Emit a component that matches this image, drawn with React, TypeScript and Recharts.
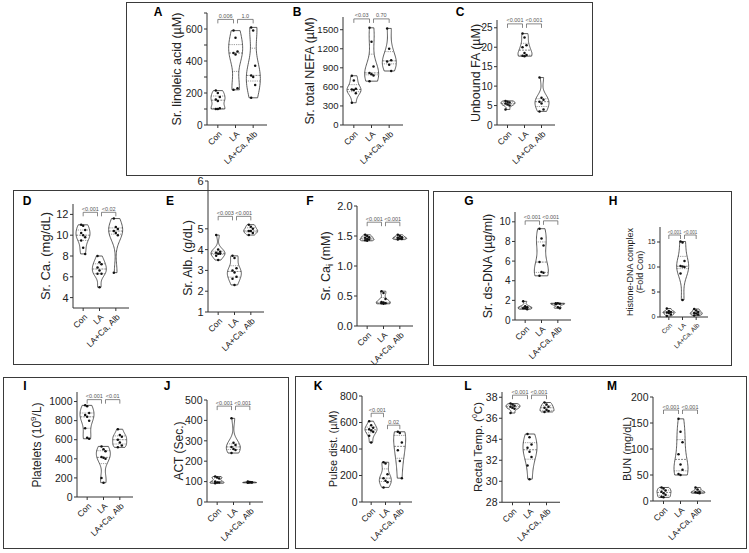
import React from 'react'
import { ComposedChart, Bar, Scatter, XAxis, YAxis, ReferenceLine } from 'recharts'

const groups = ['Con', 'LA', 'LA+Ca, Alb']

// A: serum linoleic acid (µM)
const linoleicCon = [215, 200, 175, 160, 150, 105, 100, 100]
const linoleicLA = [590, 545, 460, 450, 440, 230, 220]
const linoleicAlb = [610, 590, 370, 310, 300, 250, 170]
const linoleicP = ['0.006', '1.0']
const linoleicTicks = [0, 100, 200, 300, 400, 500, 600, 700]

// B: serum total NEFA (µM)
const nefaCon = [775, 700, 570, 560, 550, 500, 350]
const nefaLA = [1530, 1310, 920, 820, 800, 780, 690]
const nefaAlb = [1520, 1200, 1020, 1000, 950, 850]
const nefaP = ['<0.03', '0.70']
const nefaTicks = [0, 300, 600, 900, 1200, 1500]

// C: unbound FA (µM)
const unboundCon = [6.2, 6.0, 5.8, 5.5, 5.3, 5.0, 4.0]
const unboundLA = [23.5, 22.5, 20.5, 20, 18.5, 18, 17.8, 17.7]
const unboundAlb = [12.2, 7.0, 6.5, 6.0, 5.5, 4.0, 3.5]
const unboundP = ['<0.001', '<0.001']
const unboundTicks = [0, 5, 10, 15, 20, 25]

// D: serum Ca (mg/dL)
const caCon = [11.0, 10.9, 10.5, 10.2, 10.0, 9.8, 9.5, 8.8, 8.2]
const caLA = [8.0, 7.4, 7.2, 6.9, 6.6, 6.3, 6.3, 5.0]
const caAlb = [11.6, 10.8, 10.6, 10.4, 10.2, 10.0, 6.4]
const caP = ['<0.001', '<0.02']
const caTicks = [4, 6, 8, 10, 12]

// E: serum albumin (g/dL); the axis in the figure is stretched between 5 and 6
const albCon = [4.7, 4.0, 3.9, 3.85, 3.8, 3.8, 3.7, 3.5]
const albLA = [3.7, 3.6, 3.1, 3.0, 2.9, 2.7, 2.6, 2.3]
const albAlb = [5.2, 5.1, 5.0, 4.9, 4.9, 4.8, 4.7]
const albP = ['<0.003', '<0.001']
const albTicks = [1, 2, 3, 4, 5, 7.3]

// F: serum ionised Ca (mM)
const caiCon = [1.52, 1.5, 1.48, 1.47, 1.45, 1.44, 1.43, 1.42]
const caiLA = [0.58, 0.55, 0.45, 0.4, 0.39, 0.38, 0.38, 0.37]
const caiAlb = [1.52, 1.5, 1.48, 1.47, 1.46, 1.45, 1.44]
const caiP = ['<0.001', '<0.001']
const caiTicks = [0, 0.5, 1, 1.5, 2]

// G: serum ds-DNA (µg/ml)
const dnaCon = [1.9, 1.4, 1.3, 1.2, 1.2, 1.1]
const dnaLA = [9.3, 8.3, 7.6, 5.9, 4.9, 4.8, 4.5]
const dnaAlb = [1.7, 1.7, 1.65, 1.6, 1.3, 1.2]
const dnaP = ['<0.001', '<0.001']
const dnaTicks = [0, 2, 4, 6, 8, 10]

// H: histone-DNA complex (fold Con)
const histCon = [1.7, 1.2, 1.0, 0.9, 0.8, 0.5, 0.2]
const histLA = [15.1, 14.9, 11.2, 10.2, 10.1, 10.0, 8.7, 3.4]
const histAlb = [1.6, 1.3, 1.0, 0.8, 0.7, 0.5, 0.3]
const histP = ['<0.001', '<0.001']
const histTicks = [0, 5, 10, 15]

// I: platelets (10^9/L)
const pltCon = [960, 950, 880, 860, 840, 800, 720, 620, 610]
const pltLA = [530, 500, 480, 420, 410, 400, 200, 150]
const pltAlb = [710, 650, 630, 600, 570, 540, 520]
const pltP = ['<0.001', '<0.01']
const pltTicks = [0, 200, 400, 600, 800, 1000]

// J: ACT (s)
const actCon = [125, 120, 115, 100, 95, 95, 92]
const actLA = [410, 290, 280, 270, 260, 255, 240]
const actAlb = [100, 98, 97, 96, 95, 95, 94]
const actP = ['<0.001', '<0.001']
const actTicks = [0, 100, 200, 300, 400, 500]

// K: pulse distension (µM)
const pulseCon = [610, 580, 560, 550, 540, 530, 500, 450]
const pulseLA = [300, 290, 210, 180, 160, 150, 110]
const pulseAlb = [530, 520, 450, 390, 310, 180]
const pulseP = ['<0.001', '0.02']
const pulseTicks = [0, 200, 400, 600, 800]

// L: rectal temperature (°C)
const tempCon = [37.4, 37.3, 37.2, 37.1, 37.0, 36.9, 36.5]
const tempLA = [34.5, 34.2, 33.5, 33.2, 32.8, 32.3, 31.5, 30.2]
const tempAlb = [37.5, 37.3, 37.1, 37.0, 36.8, 36.7, 36.6]
const tempP = ['<0.001', '<0.001']
const tempTicks = [28, 30, 32, 34, 36, 38]

// M: BUN (mg/dL)
const bunCon = [26, 24, 20, 18, 15, 12, 8, 7]
const bunLA = [158, 133, 113, 90, 70, 60, 52, 50]
const bunAlb = [26, 22, 18, 17, 16, 15]
const bunP = ['<0.001', '<0.001']
const bunTicks = [0, 50, 100, 150, 200]

const FONT = 'Arial, "Liberation Sans", Helvetica, sans-serif'
const INK = '#333'

const quantile = (s: number[], q: number) => {
  const pos = (s.length - 1) * q
  const b = Math.floor(pos)
  const r = pos - b
  return s[b + 1] !== undefined ? s[b] + r * (s[b + 1] - s[b]) : s[b]
}

// violin outline drawn inside the bar that spans min..max
const Violin = (p: any) => {
  const { x, y, width, height, payload } = p
  if (x == null || !payload) return null
  const vals: number[] = payload.pts
  const lo = Math.min(...vals)
  const hi = Math.max(...vals)
  const top = Math.min(y, y + height)
  const h = Math.abs(height)
  const cx = x + width / 2
  const py = (v: number) => top + (h * (hi - v)) / (hi - lo)
  const n = vals.length
  const mean = vals.reduce((a, b) => a + b, 0) / n
  const sd = Math.sqrt(vals.reduce((a, b) => a + (b - mean) ** 2, 0) / (n - 1))
  const bw = Math.max(1.06 * sd * Math.pow(n, -0.2) * 0.75, (hi - lo) * 0.08)
  const dens = (t: number) => vals.reduce((a, v) => a + Math.exp(-0.5 * ((t - v) / bw) ** 2), 0)
  const steps = 40
  const ts = Array.from({ length: steps + 1 }, (_, i) => hi - ((hi - lo) * i) / steps)
  const ds = ts.map(dens)
  const dmax = Math.max(...ds)
  const half = width / 2
  const hw = (t: number) => (dens(t) / dmax) * half
  const right = ts.map((t, i) => `${i === 0 ? 'M' : 'L'}${cx + (ds[i] / dmax) * half},${py(t)}`).join('')
  const left = ts
    .slice()
    .reverse()
    .map((t, i) => `L${cx - (ds[steps - i] / dmax) * half},${py(t)}`)
    .join('')
  const s = vals.slice().sort((a, b) => a - b)
  const med = quantile(s, 0.5)
  const q1 = quantile(s, 0.25)
  const q3 = quantile(s, 0.75)
  const hline = (t: number, dash: string, k: string) => (
    <line key={k} x1={cx - hw(t)} x2={cx + hw(t)} y1={py(t)} y2={py(t)} stroke={INK} strokeWidth={0.6} strokeDasharray={dash} />
  )
  return (
    <g>
      <path d={`${right}${left}Z`} fill="#fff" stroke={INK} strokeWidth={0.8} />
      {hline(med, '2 1', 'm')}
      {hline(q1, '0.8 1', 'a')}
      {hline(q3, '0.8 1', 'b')}
    </g>
  )
}

const Dot = (p: any) => {
  const { cx, cy, payload } = p
  if (cx == null || cy == null) return null
  const dx = ((payload.k % 3) - 1) * 2
  return <circle cx={cx + dx} cy={cy} r={1.25} fill="#111" />
}

const XTick = (p: any) => {
  const { x, y, payload, fs } = p
  return (
    <g transform={`translate(${x + 1},${y + 1}) rotate(-45)`}>
      <text x={0} y={0} dy="0.6em" textAnchor="end" fontSize={fs} fill="#222" fontFamily={FONT}>
        {payload.value}
      </text>
    </g>
  )
}

const makeBracket = (text: string, first: boolean, fs: number) => (p: any) => {
  const { x1, y1, x2 } = p
  if (x1 == null) return null
  const a = first ? x1 : x1 + 2
  const b = first ? x2 - 2 : x2
  return (
    <g>
      <path d={`M${a},${y1 + 4}V${y1}H${b}V${y1 + 4}`} fill="none" stroke="#555" strokeWidth={0.7} />
      <text x={(a + b) / 2} y={y1 - 1.5} textAnchor="middle" fontSize={fs} fill="#555" fontFamily={FONT}>
        {text}
      </text>
    </g>
  )
}

type Cfg = {
  letter: string
  lx: number
  ly: number
  ylabel: React.ReactNode
  ylx: number
  ylFont: number
  axisX: number
  pxTop: number
  pxBot: number
  xLen: number
  domain: [number, number]
  ticks: number[]
  major?: number[]
  fmt?: (v: number) => string
  data: number[][]
  p: string[]
  pY: [number, number]
  tickFont: number
  xFont: number
  pFont: number
  barSize: number
  ylMid?: number
}

const Panel = ({ c }: { c: Cfg }) => {
  const rows = groups.map((g, i) => ({
    cat: g,
    range: [Math.min(...c.data[i]), Math.max(...c.data[i])],
    pts: c.data[i],
  }))
  const pts = groups.flatMap((g, i) => c.data[i].map((v, k) => ({ cat: g, v, k })))
  const wy = 34
  const mt = 12
  const xh = 52
  const w = wy + c.xLen + 8
  const h = mt + (c.pxBot - c.pxTop) + xh
  const fmt = (v: number) => {
    if (c.major && !c.major.includes(v)) return ''
    return c.fmt ? c.fmt(v) : String(v)
  }
  return (
    <>
      <div style={{ position: 'absolute', left: c.axisX - wy, top: c.pxTop - mt }}>
        <ComposedChart width={w} height={h} data={rows} margin={{ top: mt, right: 8, bottom: 0, left: 0 }}>
          <XAxis
            dataKey="cat"
            type="category"
            allowDuplicatedCategory={false}
            height={xh}
            interval={0}
            tickSize={3}
            padding={{ left: 2, right: 5 }}
            stroke={INK}
            tick={<XTick fs={c.xFont} />}
          />
          <YAxis
            dataKey="v"
            type="number"
            domain={c.domain}
            ticks={c.ticks}
            width={wy}
            tickSize={3}
            tickMargin={1.5}
            stroke={INK}
            tickFormatter={fmt}
            tick={{ fontSize: c.tickFont, fill: '#222', fontFamily: FONT }}
          />
          <Bar dataKey="range" barSize={c.barSize} shape={<Violin />} isAnimationActive={false} />
          <Scatter data={pts} dataKey="v" shape={<Dot />} isAnimationActive={false} />
          <ReferenceLine
            segment={[{ x: groups[0], y: c.pY[0] }, { x: groups[1], y: c.pY[0] }]}
            shape={makeBracket(c.p[0], true, c.pFont)}
          />
          <ReferenceLine
            segment={[{ x: groups[1], y: c.pY[1] }, { x: groups[2], y: c.pY[1] }]}
            shape={makeBracket(c.p[1], false, c.pFont)}
          />
        </ComposedChart>
      </div>
      <div
        style={{
          position: 'absolute',
          left: c.lx,
          top: c.ly,
          transform: 'translate(-50%,-50%)',
          font: `bold 12px ${FONT}`,
          lineHeight: 1,
        }}
      >
        {c.letter}
      </div>
      <div
        style={{
          position: 'absolute',
          left: c.ylx,
          top: c.ylMid ?? (c.pxTop + c.pxBot) / 2,
          transform: 'translate(-50%,-50%) rotate(-90deg)',
          font: `${c.ylFont}px ${FONT}`,
          color: '#222',
          whiteSpace: 'nowrap',
          textAlign: 'center',
          lineHeight: 1.1,
        }}
      >
        {c.ylabel}
      </div>
    </>
  )
}

const base = { tickFont: 10, xFont: 8.5, pFont: 5.5, barSize: 14 }

const panels: Cfg[] = [
  {
    ...base, letter: 'A', lx: 158, ly: 12, ylabel: 'Sr. linoleic acid (µM)', ylx: 178, ylFont: 12.5,
    axisX: 207, pxTop: 13, pxBot: 125, xLen: 60, domain: [0, 700], ticks: linoleicTicks, major: [0, 200, 400, 600],
    data: [linoleicCon, linoleicLA, linoleicAlb], p: linoleicP, pY: [660, 660],
  },
  {
    ...base, letter: 'B', lx: 297, ly: 12, ylabel: 'Sr. total NEFA (µM)', ylx: 311, ylFont: 12.5, tickFont: 9.5,
    axisX: 343, pxTop: 17, pxBot: 125, xLen: 60, domain: [0, 1700], ticks: nefaTicks,
    data: [nefaCon, nefaLA, nefaAlb], p: nefaP, pY: [1670, 1670],
  },
  {
    ...base, letter: 'C', lx: 460, ly: 12, ylabel: 'Unbound FA (µM)', ylx: 477, ylFont: 12.5,
    axisX: 497, pxTop: 20, pxBot: 125, xLen: 58, domain: [0, 27], ticks: unboundTicks,
    data: [unboundCon, unboundLA, unboundAlb], p: unboundP, pY: [26, 26],
  },
  {
    ...base, letter: 'D', lx: 27, ly: 201, ylabel: 'Sr. Ca. (mg/dL)', ylx: 46, ylFont: 13, tickFont: 11,
    axisX: 73, pxTop: 204, pxBot: 308, xLen: 56, domain: [3, 13], ticks: caTicks,
    data: [caCon, caLA, caAlb], p: caP, pY: [12.2, 12.2],
  },
  {
    ...base, letter: 'E', lx: 170, ly: 201, ylabel: 'Sr. Alb. (g/dL)', ylx: 189, ylFont: 12.5, tickFont: 11, ylMid: 258,
    axisX: 208, pxTop: 181, pxBot: 312, xLen: 56, domain: [1, 7.3], ticks: albTicks, fmt: (v) => (v > 6 ? '6' : String(v)),
    data: [albCon, albLA, albAlb], p: albP, pY: [5.6, 5.6],
  },
  {
    ...base, letter: 'F', lx: 310, ly: 201, ylabel: <>Sr. Ca<sub style={{ fontSize: 9 }}>i</sub> (mM)</>, ylx: 328, ylFont: 12.5, tickFont: 11,
    axisX: 357, pxTop: 206, pxBot: 326, xLen: 56, domain: [0, 2], ticks: caiTicks, fmt: (v) => v.toFixed(1),
    data: [caiCon, caiLA, caiAlb], p: caiP, pY: [1.73, 1.73],
  },
  {
    ...base, letter: 'G', lx: 469, ly: 201, ylabel: 'Sr. ds-DNA (µg/ml)', ylx: 489, ylFont: 12.5,
    axisX: 515, pxTop: 212, pxBot: 320, xLen: 56, domain: [0, 11], ticks: dnaTicks,
    data: [dnaCon, dnaLA, dnaAlb], p: dnaP, pY: [10.1, 10.1],
  },
  {
    ...base, letter: 'H', lx: 613, ly: 201, ylabel: <>Histone-DNA complex<br />(Fold Con)</>, ylx: 636, ylFont: 9,
    axisX: 660, pxTop: 227, pxBot: 317, xLen: 48, domain: [0, 18], ticks: histTicks, tickFont: 7, xFont: 6.5, pFont: 4.5, barSize: 12,
    data: [histCon, histLA, histAlb], p: histP, pY: [16.4, 16.4],
  },
  {
    ...base, letter: 'I', lx: 25, ly: 386, ylabel: <>Platelets (10<sup style={{ fontSize: 8 }}>9</sup>/L)</>, ylx: 37, ylFont: 12,
    axisX: 77, pxTop: 392, pxBot: 497, xLen: 56, domain: [0, 1100], ticks: pltTicks, tickFont: 10.5,
    data: [pltCon, pltLA, pltAlb], p: pltP, pY: [1020, 1020],
  },
  {
    ...base, letter: 'J', lx: 167, ly: 386, ylabel: 'ACT (Sec.)', ylx: 180, ylFont: 12,
    axisX: 207, pxTop: 400, pxBot: 502, xLen: 56, domain: [0, 500], ticks: actTicks, tickFont: 10.5,
    data: [actCon, actLA, actAlb], p: actP, pY: [470, 470],
  },
  {
    ...base, letter: 'K', lx: 318, ly: 386, ylabel: 'Pulse dist. (µM)', ylx: 333, ylFont: 11, tickFont: 10.5, barSize: 12,
    axisX: 362, pxTop: 396, pxBot: 502, xLen: 50, domain: [0, 800], ticks: pulseTicks,
    data: [pulseCon, pulseLA, pulseAlb], p: pulseP, pY: [670, 580],
  },
  {
    ...base, letter: 'L', lx: 468, ly: 386, ylabel: <>Rectal Temp. (<sup style={{ fontSize: 7 }}>0</sup>C)</>, ylx: 478, ylFont: 11.5,
    axisX: 502, pxTop: 391.75, pxBot: 502, xLen: 58, domain: [28, 38.5], ticks: tempTicks, tickFont: 10.5,
    data: [tempCon, tempLA, tempAlb], p: tempP, pY: [38.2, 38.2],
  },
  {
    ...base, letter: 'M', lx: 612, ly: 386, ylabel: 'BUN (mg/dL)', ylx: 627, ylFont: 11, tickFont: 10.5,
    axisX: 653, pxTop: 397, pxBot: 501, xLen: 58, domain: [0, 200], ticks: bunTicks,
    data: [bunCon, bunLA, bunAlb], p: bunP, pY: [175, 175],
  },
]

const frames = [
  { l: 126, t: 2, r: 593, b: 176 },
  { l: 13, t: 190, r: 429, b: 365 },
  { l: 433, t: 191, r: 732, b: 366 },
  { l: 3, t: 377, r: 289, b: 549 },
  { l: 295, t: 376, r: 747, b: 549 },
]

export default function App() {
  return (
    <div
      style={{
        position: 'absolute',
        left: 0,
        top: 0,
        width: 749,
        height: 553,
        background: '#fff',
        overflow: 'hidden',
        fontFamily: FONT,
      }}
    >
      {frames.map((f, i) => (
        <div
          key={i}
          style={{
            position: 'absolute',
            left: f.l,
            top: f.t,
            width: f.r - f.l,
            height: f.b - f.t,
            border: '1.5px solid #3a3a3a',
            boxSizing: 'border-box',
          }}
        />
      ))}
      {panels.map((c) => (
        <Panel key={c.letter} c={c} />
      ))}
    </div>
  )
}
